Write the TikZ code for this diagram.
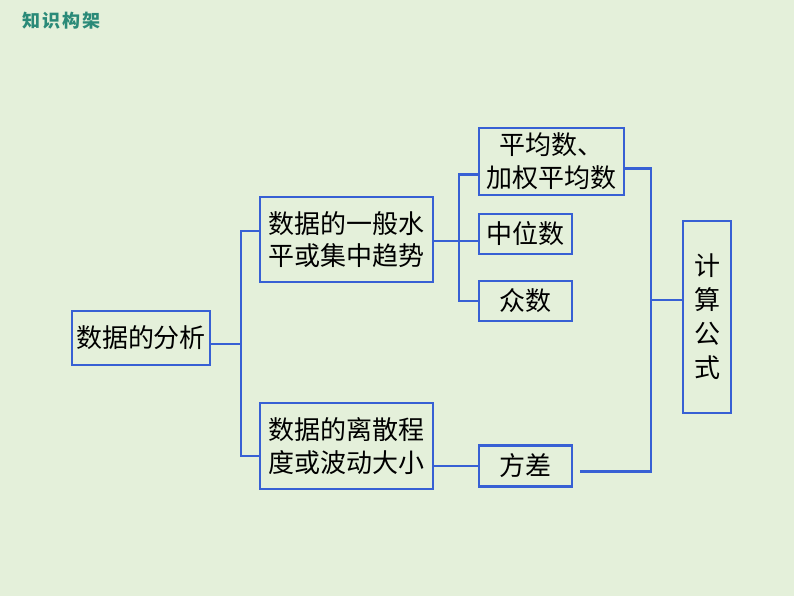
\documentclass[tikz,border=0pt]{standalone}
\usepackage{fontspec}
\setmainfont{Noto Sans CJK SC}
\usepackage{tikz}
\usetikzlibrary{positioning,calc}
\definecolor{PageGreen}{HTML}{E4F0DA}
\definecolor{FrameBlue}{HTML}{3760D4}
\definecolor{TitleTeal}{HTML}{2A8A78}

\begin{document}
\begin{tikzpicture}[x=0.75pt, y=-0.75pt,
          box/.style={rectangle, draw=FrameBlue, line width=2.2pt, fill=PageGreen, inner sep=0pt, align=center, font=\fontsize{19.5}{24.5}\selectfont},
          link/.style={draw=FrameBlue, line width=2.2pt}
        ]
          \fill[PageGreen] (0,0) rectangle (794,596);
          \useasboundingbox (0,0) rectangle (794,596);
          \node[text=TitleTeal, font=\fontsize{13.5}{15}\selectfont\bfseries, anchor=west, inner sep=0pt] (title) at (22,21) {知\kern1.5pt 识\kern1.5pt 构\kern1.5pt 架};
          % boxes
          \node[box, minimum width=103.5pt, minimum height=40.5pt] (fenxi) at (141,338) {数据的分析};
          \node[box, minimum width=129.75pt, minimum height=63.75pt] (jizhong) at (346.5,239.5) {数据的一般水\\平或集中趋势};
          \node[box, minimum width=129.75pt, minimum height=64.5pt] (lisan) at (346.5,446) {数据的离散程\\度或波动大小};
          \node[box, minimum width=108.75pt, minimum height=50.25pt] (pingjun) at (551.5,161.5) {平均数、\\加权平均数};
          \node[box, minimum width=69.75pt, minimum height=30pt] (zhongwei) at (525.5,234) {中位数};
          \node[box, minimum width=69.75pt, minimum height=30pt] (zhongshu) at (525.5,301) {众数};
          \node[box, minimum width=69.75pt, minimum height=30.75pt] (fangcha) at (525.5,466) {方差};
          \node[box, minimum width=36pt, minimum height=144pt, font=\fontsize{19.5}{25.5}\selectfont] (gongshi) at (707,317) {计\\算\\公\\式};
          % trunks
          \coordinate (t1) at (241,344);
          \coordinate (t2) at (459,241);
          \coordinate (t3) at (651,300);
          % links
          \draw[link] ([yshift=-4.5pt]fenxi.east) -- ([yshift=-4.5pt]fenxi.east -| t1);
          \draw[link] ([yshift=6.4pt]jizhong.west) -| (t1) |- ([yshift=-7.5pt]lisan.west);
          \draw[link] (jizhong.east |- t2) -- (t2);
          \draw[link] ([yshift=-10pt]pingjun.west) -| (t2) |- (zhongshu.west);
          \draw[link] (t2) -- (t2 -| zhongwei.west);
          \draw[link] (lisan.east |- fangcha.west) -- (fangcha.west);
          \draw[link] ([yshift=-5pt]pingjun.east) -| (t3) |- ([xshift=5pt,yshift=-4pt]fangcha.east);
          \draw[link] (t3) -- (gongshi.west |- t3);
        \end{tikzpicture}
\end{document}
